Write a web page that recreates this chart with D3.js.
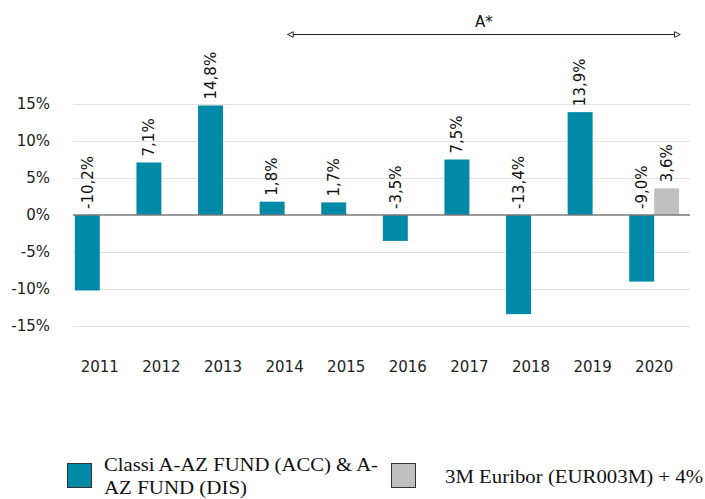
<!DOCTYPE html>
<html lang="en">
<head>
<meta charset="utf-8"/>
<style>
body { margin: 0; background: #fff; }
text { font-family: "DejaVu Sans", sans-serif; }
.tick text { font-size: 15px; fill: #222; }
.lbl { font-size: 15px; fill: #111; }
.leg { font-family: "Liberation Serif", serif; font-size: 18px; fill: #111; }
</style>
</head>
<body>
<svg width="705" height="499"></svg>
<script src="https://cdn.jsdelivr.net/npm/d3@7/dist/d3.min.js"></script>
<script>
var years = ['2011','2012','2013','2014','2015','2016','2017','2018','2019','2020'];
var fund = [-10.2, 7.1, 14.8, 1.8, 1.7, -3.5, 7.5, -13.4, 13.9, -9.0];
var euribor = [null, null, null, null, null, null, null, null, null, 3.6];
var yTicks = [-15, -10, -5, 0, 5, 10, 15];
var seriesNames = ['Classi A-AZ FUND (ACC) & A-|AZ FUND (DIS)', '3M Euribor (EUR003M) + 4%'];
var colors = ['#008aa8', '#c0c0c0'];

var svg = d3.select('svg');

var x0 = d3.scaleBand().domain(years).range([69, 685]).paddingInner(0.19).paddingOuter(0.095);
var x1 = d3.scaleBand().domain([0, 1]).range([0, x0.bandwidth()]);
var y = d3.scaleLinear().domain([-15, 15]).range([326, 104]);

// gridlines
svg.append('g').selectAll('line').data(yTicks.filter(function(d) { return d != 0; }))
  .enter().append('line')
  .attr('x1', 73).attr('x2', 690)
  .attr('y1', function(d) { return y(d) + 0.5; })
  .attr('y2', function(d) { return y(d) + 0.5; })
  .attr('stroke', '#e2e2e2').attr('stroke-width', 1);

// y axis labels
svg.append('g').attr('class', 'tick').selectAll('text').data(yTicks)
  .enter().append('text')
  .attr('x', 50).attr('y', function(d) { return y(d); })
  .attr('dy', '0.35em').attr('text-anchor', 'end')
  .text(function(d) { return d + '%'; });

// bars
var rows = [];
years.forEach(function(yr, i) {
  rows.push({ year: yr, s: 0, v: fund[i] });
  if (euribor[i] != null) rows.push({ year: yr, s: 1, v: euribor[i] });
});

svg.append('g').selectAll('rect').data(rows)
  .enter().append('rect')
  .attr('x', function(d) { return x0(d.year) + x1(d.s); })
  .attr('width', x1.bandwidth())
  .attr('y', function(d) { return y(Math.max(0, d.v)); })
  .attr('height', function(d) { return Math.abs(y(d.v) - y(0)); })
  .attr('fill', function(d) { return colors[d.s]; });

// zero line
svg.append('line')
  .attr('x1', 73).attr('x2', 690)
  .attr('y1', y(0)).attr('y2', y(0))
  .attr('stroke', '#7a7a7a').attr('stroke-width', 1.5);

// value labels
svg.append('g').selectAll('text').data(rows)
  .enter().append('text')
  .attr('class', 'lbl')
  .attr('transform', function(d) {
    var cx = x0(d.year) + x1(d.s) + x1.bandwidth() / 2;
    var cy = y(Math.max(0, d.v)) - 6;
    return 'translate(' + cx + ',' + cy + ') rotate(-90)';
  })
  .attr('dy', '0.35em')
  .text(function(d) { return d.v.toFixed(1).replace('.', ',') + '%'; });

// year labels
svg.append('g').attr('class', 'tick').selectAll('text').data(years)
  .enter().append('text')
  .attr('x', function(d) { return x0(d) + x0.bandwidth() / 2; })
  .attr('y', 372).attr('text-anchor', 'middle')
  .text(function(d) { return d; });

// A* arrow
var defs = svg.append('defs');
defs.append('marker').attr('id', 'tri').attr('viewBox', '0 0 10 10')
  .attr('refX', 9).attr('refY', 5).attr('markerWidth', 7).attr('markerHeight', 7)
  .attr('markerUnits', 'userSpaceOnUse')
  .attr('orient', 'auto-start-reverse')
  .append('path').attr('d', 'M1,1 L9,5 L1,9 Z')
  .attr('fill', '#fff').attr('stroke', '#222').attr('stroke-width', 1.4);

var ax1 = x0('2014') + x0.bandwidth() / 2 + 3;
var ax2 = x0('2020') + x0.bandwidth() + 1;
svg.append('line')
  .attr('x1', ax1).attr('x2', ax2).attr('y1', 34.5).attr('y2', 34.5)
  .attr('stroke', '#222').attr('stroke-width', 1.2)
  .attr('marker-start', 'url(#tri)').attr('marker-end', 'url(#tri)');
svg.append('text').attr('class', 'lbl')
  .attr('x', (ax1 + ax2) / 2).attr('y', 27).attr('text-anchor', 'middle')
  .text('A*');

// legend
var legX = [67, 391];
var leg = svg.append('g').selectAll('g').data(seriesNames).enter().append('g');
leg.append('rect')
  .attr('x', function(d, i) { return legX[i] + 0.5; }).attr('y', 463.5)
  .attr('width', 24).attr('height', 24)
  .attr('fill', function(d, i) { return colors[i]; })
  .attr('stroke', '#333').attr('stroke-width', 1);
leg.each(function(d, i) {
  var lines = d.split('|');
  var g = d3.select(this);
  var tx = i == 0 ? 104 : 445;
  var ty = i == 0 ? 471 : 483;
  var widths = i == 0 ? [274, 143] : [258];
  lines.forEach(function(l, j) {
    g.append('text').attr('class', 'leg')
      .attr('x', tx).attr('y', ty + j * 23)
      .attr('textLength', widths[j]).attr('lengthAdjust', 'spacingAndGlyphs')
      .text(l);
  });
});
</script>
</body>
</html>
